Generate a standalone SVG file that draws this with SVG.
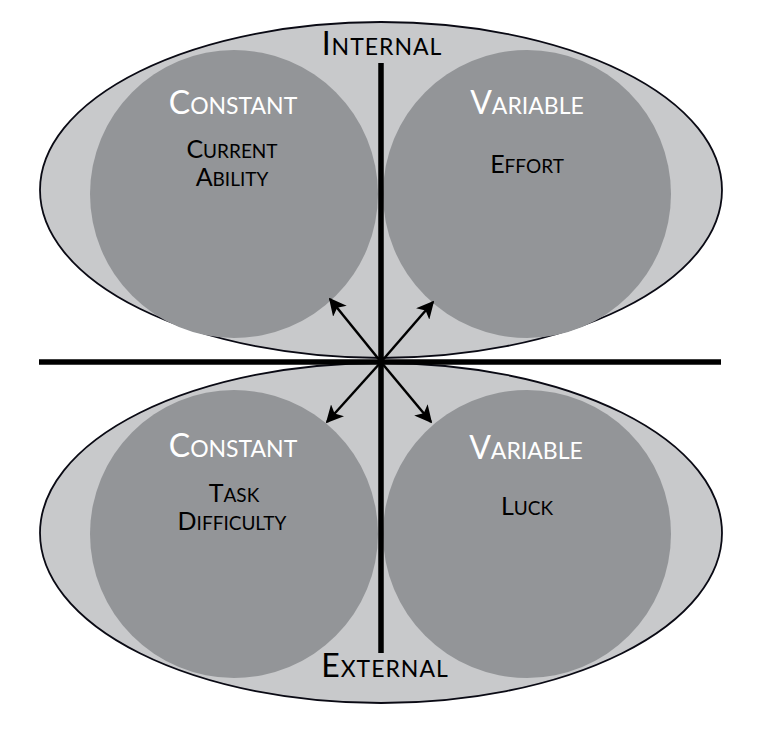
<svg xmlns="http://www.w3.org/2000/svg" width="762" height="730" viewBox="0 0 762 730">
<defs>
<marker id="ah" viewBox="0 0 10 10" refX="9" refY="5" markerWidth="7" markerHeight="7" markerUnits="strokeWidth" orient="auto">
<path d="M0,0 L10,5 L0,10 L2.5,5 Z" fill="#000"/>
</marker>
<style>
.outer{fill:#c8c9cb;stroke:#0a0a14;stroke-width:1.8}
.inner{fill:#939598}
.axis{stroke:#000;stroke-width:5.5;fill:none}
.arr{stroke:#000;stroke-width:2.5;fill:none;marker-end:url(#ah)}
text{font-family:Lato,"Open Sans","Liberation Sans",sans-serif;text-anchor:middle}
.w{fill:#fff}
.k{fill:#000}
.big{font-size:32px}
.sm{font-size:23px}
.big2{font-size:25px}
.sm2{font-size:19px}
.axl{letter-spacing:1px}
</style>
</defs>
<rect width="762" height="730" fill="#fff"/>
<g id="internal">
<ellipse class="outer" cx="381" cy="190" rx="341" ry="168"/>
</g>
<g id="external">
<ellipse class="outer" cx="381" cy="533" rx="341" ry="170"/>
</g>
<g id="internal-constant">
<circle class="inner" cx="234" cy="194" r="144"/>
<text class="w" x="233" y="114"><tspan class="big">C</tspan><tspan class="sm">ONSTANT</tspan></text>
<text class="k" x="232" y="158"><tspan class="big2">C</tspan><tspan class="sm2">URRENT</tspan></text>
<text class="k" x="232" y="186"><tspan class="big2">A</tspan><tspan class="sm2">BILITY</tspan></text>
</g>
<g id="internal-variable">
<circle class="inner" cx="527" cy="194" r="144"/>
<text class="w" x="527" y="114"><tspan class="big">V</tspan><tspan class="sm">ARIABLE</tspan></text>
<text class="k" x="527" y="173"><tspan class="big2">E</tspan><tspan class="sm2">FFORT</tspan></text>
</g>
<g id="external-constant">
<circle class="inner" cx="234" cy="534" r="144"/>
<text class="w" x="233" y="457"><tspan class="big">C</tspan><tspan class="sm">ONSTANT</tspan></text>
<text class="k" x="234" y="502"><tspan class="big2">T</tspan><tspan class="sm2">ASK</tspan></text>
<text class="k" x="232" y="530"><tspan class="big2">D</tspan><tspan class="sm2">IFFICULTY</tspan></text>
</g>
<g id="external-variable">
<circle class="inner" cx="527" cy="534" r="144"/>
<text class="w" x="526" y="459"><tspan class="big">V</tspan><tspan class="sm">ARIABLE</tspan></text>
<text class="k" x="527" y="515"><tspan class="big2">L</tspan><tspan class="sm2">UCK</tspan></text>
</g>
<g id="connectors">
<line class="axis" x1="381" y1="63" x2="381" y2="653"/>
<line class="axis" x1="39" y1="362" x2="721" y2="362"/>
<line class="arr" x1="381" y1="362" x2="330" y2="299"/>
<line class="arr" x1="381" y1="362" x2="433" y2="302"/>
<line class="arr" x1="381" y1="362" x2="327" y2="422"/>
<line class="arr" x1="381" y1="362" x2="431" y2="422"/>
</g>
<g id="labels">
<text class="k axl" x="382" y="55"><tspan font-size="32px">I</tspan><tspan font-size="23px">NTERNAL</tspan></text>
<text class="k axl" x="385" y="677"><tspan font-size="32px">E</tspan><tspan font-size="23px">XTERNAL</tspan></text>
</g>
</svg>
